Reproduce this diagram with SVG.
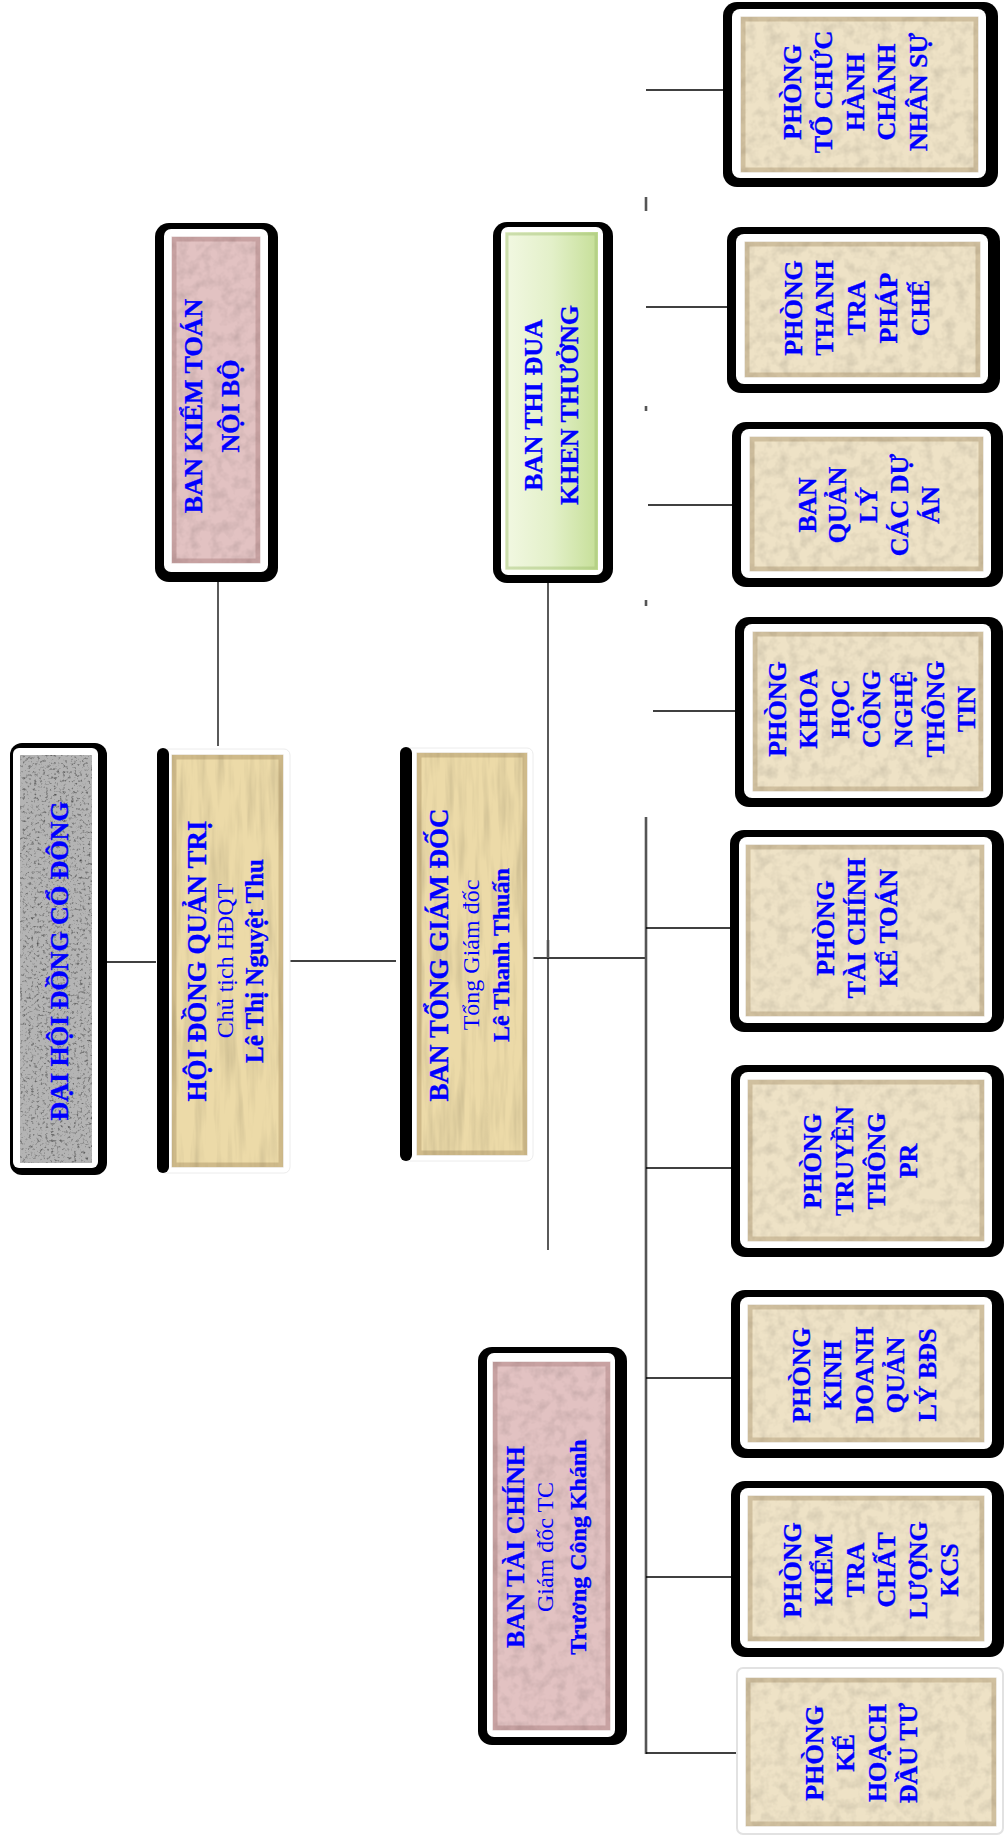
<svg xmlns="http://www.w3.org/2000/svg" width="1005" height="1839" viewBox="0 0 1005 1839">
<defs>
<style>
.t{font-family:"Liberation Serif","Times New Roman",serif;fill:#0000ff;stroke:#0000ff;stroke-width:0.35;font-weight:bold;font-size:26px;text-anchor:middle}
.n{font-weight:normal;stroke-width:0}
.blk{fill:#000}
.wht{fill:#fff}
.par{fill:#eee2c6;filter:url(#tx)}
.yel{fill:#ecdaa8;filter:url(#streak)}
.pink{fill:#e2c2c2;filter:url(#tx)}
.bev{fill:none;stroke:#8a7044;stroke-opacity:.3;stroke-width:5}
.bevp{fill:none;stroke:#8a5a5a;stroke-opacity:.3;stroke-width:5}
.ln{stroke:#000;stroke-width:1.3;fill:none}
.tr{stroke:#555;stroke-width:2.6;fill:none}
</style>
<filter id="tx" x="0" y="0" width="1" height="1" color-interpolation-filters="sRGB">
<feTurbulence type="fractalNoise" baseFrequency="0.09" numOctaves="3" seed="4"/>
<feColorMatrix type="matrix" values="0.22 0 0 0 0.87 0.22 0 0 0 0.87 0.22 0 0 0 0.87 0 0 0 0 1"/>
<feBlend in="SourceGraphic" mode="multiply"/>
<feComposite in2="SourceGraphic" operator="in"/>
</filter>
<filter id="streak" x="0" y="0" width="1" height="1" color-interpolation-filters="sRGB">
<feTurbulence type="fractalNoise" baseFrequency="0.12 0.012" numOctaves="3" seed="7"/>
<feColorMatrix type="matrix" values="0.25 0 0 0 0.86 0.25 0 0 0 0.86 0.25 0 0 0 0.86 0 0 0 0 1"/>
<feBlend in="SourceGraphic" mode="multiply"/>
<feComposite in2="SourceGraphic" operator="in"/>
</filter>
<filter id="gran" x="0" y="0" width="1" height="1" color-interpolation-filters="sRGB">
<feTurbulence type="fractalNoise" baseFrequency="0.35" numOctaves="3" seed="11"/>
<feColorMatrix type="matrix" values="1.4 0 0 0 0.35 1.4 0 0 0 0.35 1.4 0 0 0 0.35 0 0 0 0 1"/>
<feBlend in="SourceGraphic" mode="multiply"/>
<feComposite in2="SourceGraphic" operator="in"/>
</filter>
<linearGradient id="grn" x1="0" y1="0" x2="1" y2="0">
<stop offset="0" stop-color="#f2f8e2"/>
<stop offset="0.5" stop-color="#e3f0c9"/>
<stop offset="1" stop-color="#c6df98"/>
</linearGradient>
</defs>
<rect width="1005" height="1839" fill="#fff"/>

<g id="connectors">
<line class="ln" x1="92" y1="962" x2="156" y2="962"/>
<line class="ln" x1="290" y1="961" x2="396" y2="961"/>
<line class="ln" x1="218" y1="572" x2="218" y2="746"/>
<line class="ln" x1="531" y1="958" x2="646" y2="958"/>
<line class="ln" x1="548" y1="572" x2="548" y2="1250"/>
<line class="tr" x1="548" y1="940" x2="548" y2="958"/>
<line class="tr" x1="646" y1="817" x2="646" y2="1754"/>
<line class="tr" x1="646" y1="197" x2="646" y2="211"/>
<line class="tr" x1="646" y1="406" x2="646" y2="411"/>
<line class="tr" x1="646" y1="600" x2="646" y2="606"/>
<line class="ln" x1="646" y1="90" x2="736" y2="90"/>
<line class="ln" x1="646" y1="307" x2="741" y2="307"/>
<line class="ln" x1="648" y1="505" x2="744" y2="505"/>
<line class="ln" x1="653" y1="711" x2="748" y2="711"/>
<line class="ln" x1="646" y1="928" x2="745" y2="928"/>
<line class="ln" x1="646" y1="1168" x2="742" y2="1168"/>
<line class="ln" x1="646" y1="1378" x2="742" y2="1378"/>
<line class="ln" x1="646" y1="1577" x2="742" y2="1577"/>
<line class="ln" x1="646" y1="1753" x2="748" y2="1753"/>
</g>

<g id="dai-hoi-dong-co-dong">
<rect class="blk" x="10" y="743" width="97" height="432" rx="12"/>
<rect class="wht" x="13" y="748" width="85" height="420" rx="6"/>
<rect x="20" y="755" width="72" height="408" fill="#b4b4b4" filter="url(#gran)"/>
<text class="t" font-size="27" transform="translate(0,961) rotate(-90)"><tspan x="0" y="68">ĐẠI HỘI ĐỒNG CỔ ĐÔNG</tspan></text>
</g>

<g id="hoi-dong-quan-tri">
<rect x="158" y="749" width="132" height="424" rx="6" fill="#fff" stroke="#ececec"/>
<rect class="blk" x="157" y="748" width="12" height="425" rx="6"/>
<rect class="yel" x="172" y="755" width="111" height="412"/>
<rect class="bev" x="174" y="757" width="107" height="408"/>
<text class="t" transform="translate(0,961) rotate(-90)"><tspan x="0" y="206" font-size="27">HỘI ĐỒNG QUẢN TRỊ</tspan><tspan x="0" y="233" font-size="24" class="n">Chủ tịch HĐQT</tspan><tspan x="0" y="263" font-size="25">Lê Thị Nguyệt Thu</tspan></text>
</g>

<g id="ban-tong-giam-doc">
<rect x="401" y="748" width="132" height="413" rx="6" fill="#fff" stroke="#ececec"/>
<rect class="blk" x="400" y="747" width="12" height="414" rx="6"/>
<rect class="yel" x="417" y="753" width="110" height="402"/>
<rect class="bev" x="419" y="755" width="106" height="398"/>
<text class="t" transform="translate(0,955) rotate(-90)"><tspan x="0" y="448" font-size="27">BAN TỔNG GIÁM ĐỐC</tspan><tspan x="0" y="479" font-size="24" class="n">Tổng Giám đốc</tspan><tspan x="0" y="509" font-size="24">Lê Thanh Thuấn</tspan></text>
</g>

<g id="ban-kiem-toan-noi-bo">
<rect class="blk" x="155" y="223" width="123" height="359" rx="14"/>
<rect class="wht" x="164" y="229" width="104" height="343" rx="7"/>
<rect class="pink" x="172" y="237" width="88" height="326"/>
<rect class="bevp" x="174" y="239" width="84" height="322"/>
<text class="t" font-size="27" transform="translate(0,406) rotate(-90)"><tspan x="0" y="202">BAN KIỂM TOÁN</tspan><tspan x="0" y="239">NỘI BỘ</tspan></text>
</g>

<g id="ban-thi-dua-khen-thuong">
<rect class="blk" x="493" y="222" width="120" height="361" rx="14"/>
<rect class="wht" x="501" y="227" width="102" height="348" rx="7"/>
<rect x="505" y="232" width="93" height="338" fill="url(#grn)"/>
<rect x="507" y="234" width="89" height="334" fill="none" stroke="#9fbf6f" stroke-opacity=".45" stroke-width="3"/>
<text class="t" font-size="27" transform="translate(0,405) rotate(-90)"><tspan x="0" y="542">BAN THI ĐUA</tspan><tspan x="0" y="578">KHEN THƯỞNG</tspan></text>
</g>

<g id="ban-tai-chinh">
<rect class="blk" x="478" y="1347" width="149" height="398" rx="14"/>
<rect class="wht" x="487" y="1353" width="128" height="384" rx="7"/>
<rect class="pink" x="493" y="1362" width="117" height="368"/>
<rect class="bevp" x="495" y="1364" width="113" height="364"/>
<text class="t" transform="translate(0,1547) rotate(-90)"><tspan x="0" y="524" font-size="26">BAN TÀI CHÍNH</tspan><tspan x="0" y="553" font-size="24" class="n">Giám đốc TC</tspan><tspan x="0" y="586" font-size="24">Trương Công Khánh</tspan></text>
</g>

<g id="phong-to-chuc-hanh-chanh-nhan-su">
<rect class="blk" x="723" y="2" width="275" height="185" rx="14"/>
<rect class="wht" x="732" y="9" width="254" height="169" rx="8"/>
<rect class="par" x="741" y="17" width="237" height="155"/>
<rect class="bev" x="743" y="19" width="233" height="151"/>
<text class="t" transform="translate(0,92) rotate(-90)"><tspan x="0" y="800.6">PHÒNG</tspan><tspan x="0" y="832.1">TỔ CHỨC</tspan><tspan x="0" y="863.6">HÀNH</tspan><tspan x="0" y="895.1">CHÁNH</tspan><tspan x="0" y="926.6">NHÂN SỰ</tspan></text>
</g>

<g id="phong-thanh-tra-phap-che">
<rect class="blk" x="727" y="227" width="273" height="166" rx="14"/>
<rect class="wht" x="736" y="234" width="252" height="150" rx="8"/>
<rect class="par" x="745" y="242" width="235" height="135"/>
<rect class="bev" x="747" y="244" width="231" height="131"/>
<text class="t" transform="translate(0,308) rotate(-90)"><tspan x="0" y="801.6">PHÒNG</tspan><tspan x="0" y="833.3">THANH</tspan><tspan x="0" y="865.1">TRA</tspan><tspan x="0" y="896.8">PHÁP</tspan><tspan x="0" y="928.6">CHẾ</tspan></text>
</g>

<g id="ban-quan-ly-cac-du-an">
<rect class="blk" x="732" y="422" width="271" height="165" rx="14"/>
<rect class="wht" x="741" y="429" width="250" height="149" rx="8"/>
<rect class="par" x="750" y="437" width="233" height="134"/>
<rect class="bev" x="752" y="439" width="229" height="130"/>
<text class="t" transform="translate(0,505) rotate(-90)"><tspan x="0" y="815.6">BAN</tspan><tspan x="0" y="846.3">QUẢN</tspan><tspan x="0" y="877.1">LÝ</tspan><tspan x="0" y="907.8">CÁC DỰ</tspan><tspan x="0" y="938.6">ÁN</tspan></text>
</g>

<g id="phong-khoa-hoc-cong-nghe-thong-tin">
<rect class="blk" x="735" y="617" width="268" height="190" rx="14"/>
<rect class="wht" x="744" y="624" width="247" height="174" rx="8"/>
<rect class="par" x="753" y="632" width="230" height="159"/>
<rect class="bev" x="755" y="634" width="226" height="155"/>
<text class="t" transform="translate(0,709) rotate(-90)"><tspan x="0" y="785.6">PHÒNG</tspan><tspan x="0" y="817.2">KHOA</tspan><tspan x="0" y="848.8">HỌC</tspan><tspan x="0" y="880.4">CÔNG</tspan><tspan x="0" y="912">NGHỆ</tspan><tspan x="0" y="943.6">THÔNG</tspan><tspan x="0" y="975.2">TIN</tspan></text>
</g>

<g id="phong-tai-chinh-ke-toan">
<rect class="blk" x="730" y="830" width="274" height="202" rx="14"/>
<rect class="wht" x="739" y="837" width="253" height="186" rx="8"/>
<rect class="par" x="746" y="845" width="238" height="171"/>
<rect class="bev" x="748" y="847" width="234" height="167"/>
<text class="t" transform="translate(0,928) rotate(-90)"><tspan x="0" y="833.6">PHÒNG</tspan><tspan x="0" y="865.1">TÀI CHÍNH</tspan><tspan x="0" y="896.6">KẾ TOÁN</tspan></text>
</g>

<g id="phong-truyen-thong-pr">
<rect class="blk" x="731" y="1065" width="273" height="192" rx="14"/>
<rect class="wht" x="740" y="1072" width="252" height="176" rx="8"/>
<rect class="par" x="748" y="1080" width="236" height="161"/>
<rect class="bev" x="750" y="1082" width="232" height="157"/>
<text class="t" transform="translate(0,1161) rotate(-90)"><tspan x="0" y="820.6">PHÒNG</tspan><tspan x="0" y="852.6">TRUYỀN</tspan><tspan x="0" y="884.6">THÔNG</tspan><tspan x="0" y="916.6">PR</tspan></text>
</g>

<g id="phong-kinh-doanh-quan-ly-bds">
<rect class="blk" x="731" y="1290" width="273" height="168" rx="14"/>
<rect class="wht" x="740" y="1297" width="252" height="152" rx="8"/>
<rect class="par" x="748" y="1305" width="236" height="137"/>
<rect class="bev" x="750" y="1307" width="232" height="133"/>
<text class="t" transform="translate(0,1375) rotate(-90)"><tspan x="0" y="809.6">PHÒNG</tspan><tspan x="0" y="841.1">KINH</tspan><tspan x="0" y="872.6">DOANH</tspan><tspan x="0" y="904.1">QUẢN</tspan><tspan x="0" y="935.6">LÝ BĐS</tspan></text>
</g>

<g id="phong-kiem-tra-chat-luong-kcs">
<rect class="blk" x="731" y="1481" width="273" height="176" rx="14"/>
<rect class="wht" x="740" y="1488" width="252" height="160" rx="8"/>
<rect class="par" x="748" y="1496" width="236" height="145"/>
<rect class="bev" x="750" y="1498" width="232" height="141"/>
<text class="t" transform="translate(0,1570) rotate(-90)"><tspan x="0" y="800.6">PHÒNG</tspan><tspan x="0" y="832.1">KIỂM</tspan><tspan x="0" y="863.6">TRA</tspan><tspan x="0" y="895.1">CHẤT</tspan><tspan x="0" y="926.6">LƯỢNG</tspan><tspan x="0" y="958.1">KCS</tspan></text>
</g>

<g id="phong-ke-hoach-dau-tu">
<rect x="737" y="1668" width="266" height="166" rx="6" fill="#fff" stroke="#e2e2e2" stroke-width="2"/>
<rect class="par" x="746" y="1678" width="250" height="148"/>
<rect class="bev" x="748" y="1680" width="246" height="144"/>
<text class="t" transform="translate(0,1753) rotate(-90)"><tspan x="0" y="822.6">PHÒNG</tspan><tspan x="0" y="854.1">KẾ</tspan><tspan x="0" y="885.6">HOẠCH</tspan><tspan x="0" y="917.1">ĐẦU TƯ</tspan></text>
</g>
</svg>
